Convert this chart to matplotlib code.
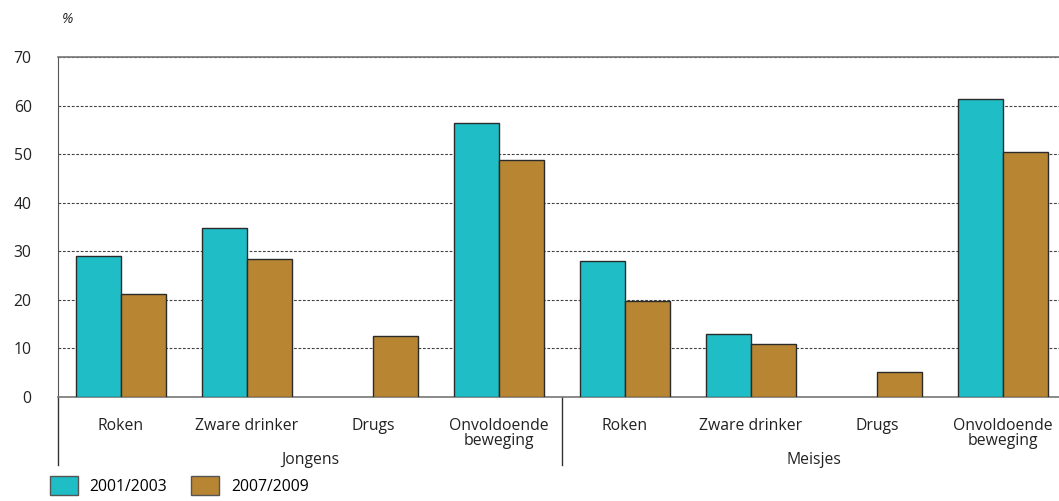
import numpy as np
import matplotlib.pyplot as plt
from matplotlib.patches import Patch

plt.rcParams['font.family'] = ['Open Sans', 'DejaVu Sans']

categories = ['Roken', 'Zware drinker', 'Drugs', 'Onvoldoende\nbeweging']
groups = ['Jongens', 'Meisjes']
series_names = ['2001/2003', '2007/2009']

# values per group: Roken, Zware drinker, Drugs, Onvoldoende beweging
jongens_2001 = [29.0, 34.8, np.nan, 56.4]
jongens_2007 = [21.2, 28.4, 12.6, 48.8]
meisjes_2001 = [28.0, 13.0, np.nan, 61.4]
meisjes_2007 = [19.8, 10.9, 5.1, 50.4]

teal = '#1FBDC6'
brown = '#B88532'
text_color = '#222222'
fs = 11.3

fig = plt.figure(figsize=(10.59, 5.01), dpi=100)
ax = fig.add_axes([0.0548, 0.2076, 0.9518, 0.6786])

vals_a = jongens_2001 + meisjes_2001
vals_b = jongens_2007 + meisjes_2007
x = np.arange(len(vals_a))
w = 0.357

ax.bar(x - w / 2, vals_a, width=w, color=teal, edgecolor='#2a2a2a', linewidth=1.0, zorder=3)
ax.bar(x + w / 2, vals_b, width=w, color=brown, edgecolor='#2a2a2a', linewidth=1.0, zorder=3)

ax.set_xlim(-0.5, len(x) - 0.5)
ax.set_ylim(0, 70)
ax.set_yticks(range(0, 71, 10))
ax.tick_params(axis='y', length=0, pad=19, labelsize=fs, colors=text_color)
ax.set_xticks([])

ax.yaxis.grid(True, linestyle=(0, (2.5, 1.5)), color='#444444', linewidth=0.8)
ax.set_axisbelow(True)

ax.spines['right'].set_visible(False)
ax.spines['top'].set_color('#777777')
ax.spines['top'].set_linewidth(1.2)
ax.spines['left'].set_color('#555555')
ax.spines['bottom'].set_color('#777777')
ax.spines['bottom'].set_linewidth(1.2)

# category labels, one text per line so the first lines line up
line_step = 3.1
for i, lab in enumerate(categories * 2):
    for j, part in enumerate(lab.split('\n')):
        ax.text(i, -6.0 - j * line_step, part, ha='center', va='center', fontsize=fs,
                color=text_color, clip_on=False)

# group labels
for g, name in enumerate(groups):
    ax.text(1.5 + 4 * g, -13.0, name, ha='center', va='center', fontsize=fs,
            color=text_color, clip_on=False)

# vertical separators below axis
for xv in (-0.5, 3.5):
    ax.plot([xv, xv], [0, -14.0], color='#333333', linewidth=1.0, clip_on=False)

fig.text(0.0585, 0.962, '%', fontsize=fs - 1, style='italic', color=text_color, va='center')

handles = [Patch(facecolor=teal, edgecolor='#555555', label=series_names[0]),
           Patch(facecolor=brown, edgecolor='#555555', label=series_names[1])]
fig.legend(handles=handles, loc='lower left', bbox_to_anchor=(0.035, -0.014), ncol=2,
           frameon=False, fontsize=fs, handlelength=1.8, handleheight=1.55,
           columnspacing=1.5, handletextpad=0.75, borderpad=0.3)

fig.savefig('out.png', dpi=100)
